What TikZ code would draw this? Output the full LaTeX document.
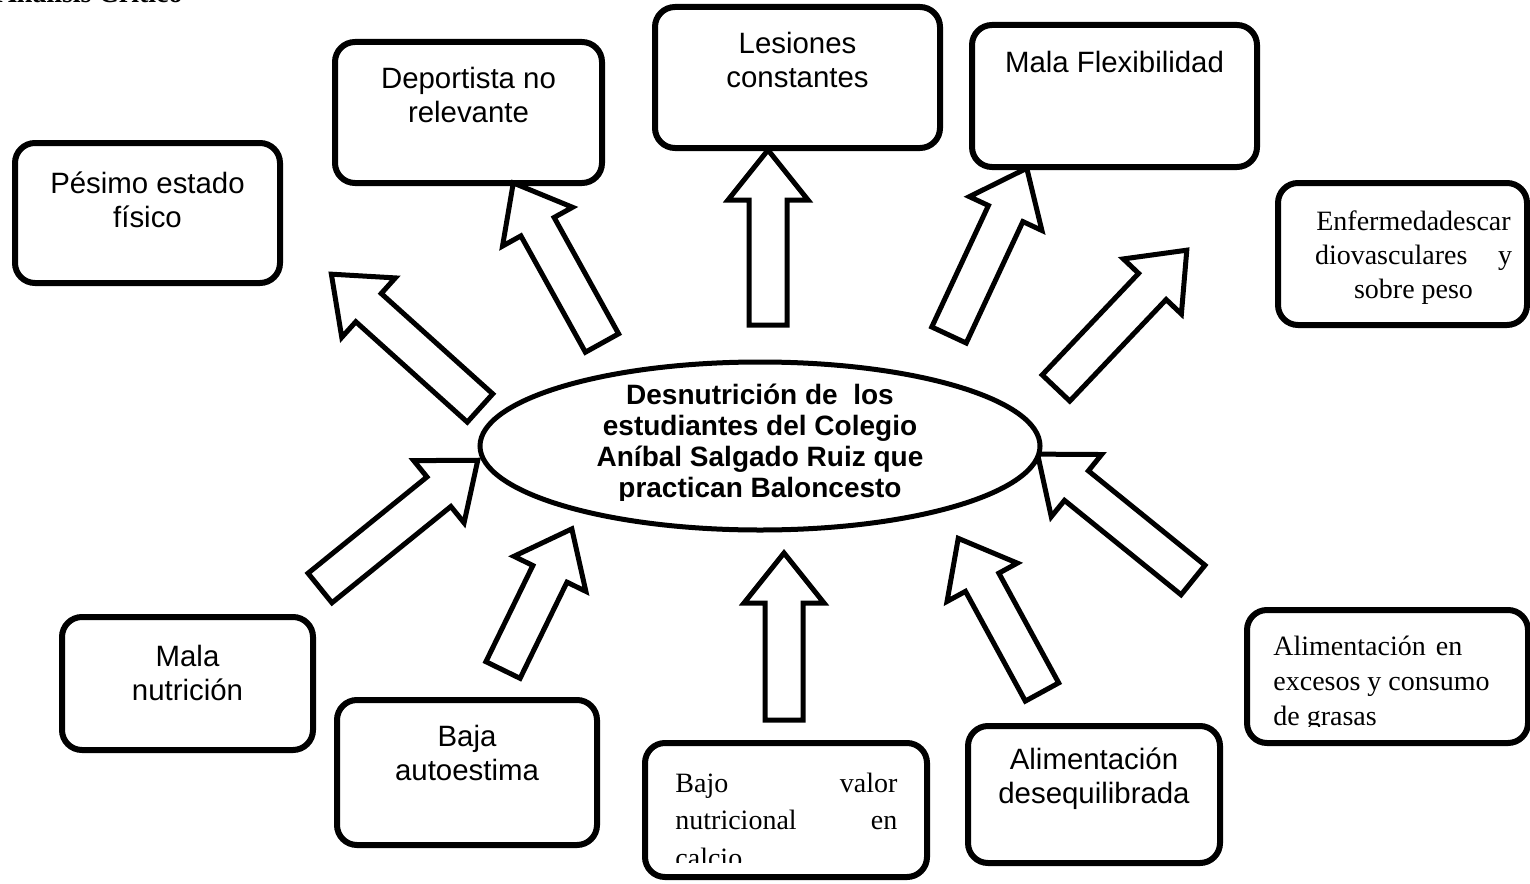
\documentclass[tikz,border=0pt]{standalone}
\usepackage{fontspec}
\setmainfont{Liberation Serif}
\setsansfont{Liberation Sans}
\usetikzlibrary{shapes.geometric}

% block arrow: tail x, tail y, angle, length
\newcommand{\flecha}[4]{%
  \draw[arrowline, shift={(#1,#2)}, rotate=#3]
    (0,-19) -- (#4-50,-19) -- (#4-50,-40) -- (#4,0) -- (#4-50,40) -- (#4-50,19) -- (0,19) -- cycle;}

\begin{document}
\begin{tikzpicture}[x=0.5pt, y=-0.5pt,
  box/.style={draw, line width=3pt, rounded corners=10pt, inner sep=0pt},
  arial/.style={font=\fontsize{14.7}{17}\selectfont\sffamily, align=center, anchor=base, inner sep=0pt},
  times/.style={font=\fontsize{14}{17.5}\selectfont\rmfamily, align=left, anchor=base west, inner sep=0pt},
  arrowline/.style={line width=2.5pt, line join=miter, fill=white}]

\useasboundingbox (0,0) rectangle (1530,883);
\clip (0,0) rectangle (1530,883);

\node[font=\fontsize{14}{17}\selectfont\bfseries, anchor=base east, inner sep=0pt] (titulo) at (183,3) {Análisis Crítico};

% boxes (text anchored at the last line)
\node[box, minimum width=132.5pt, minimum height=70pt] (pesimo) at (147.5,213) {};
\node[arial] (pesimotxt) at (147.5,227) {Pésimo estado\\físico};

\node[box, minimum width=133.5pt, minimum height=70.5pt] (deport) at (468.5,112.5) {};
\node[arial] (deporttxt) at (468.5,122) {Deportista no\\relevante};

\node[box, minimum width=142.5pt, minimum height=70.5pt] (lesion) at (797.5,77.5) {};
\node[arial] (lesiontxt) at (797.5,88) {Lesiones\\constantes};

\node[box, minimum width=142.5pt, minimum height=71pt] (flex) at (1114.5,96) {};
\node[arial] (flextxt) at (1114.5,73) {Mala Flexibilidad};

\node[box, minimum width=124.5pt, minimum height=71pt] (enferm) at (1402.5,254) {};
\begin{scope}
  \clip (1280,185) rectangle (1525,307);
  \node[times, anchor=base, align=center, font=\fontsize{14}{17}\selectfont\rmfamily] (enfermtxt) at (1413.5,298)
    {Enfermedadescar\\\makebox[98.5pt]{diovasculares\hfill y}\\sobre peso};
\end{scope}

\node[box, minimum width=140.5pt, minimum height=66.5pt] (exceso) at (1387.5,676.5) {};
\begin{scope}
  \clip (1250,612) rectangle (1525,726);
  \node[times] (excesotxt) at (1273,725) {Alimentación\hspace{5pt}en\\excesos y consumo\\de grasas};
\end{scope}

\node[box, minimum width=126pt, minimum height=68.5pt] (deseq) at (1094,794.5) {};
\node[arial] (deseqtxt) at (1094,803) {Alimentación\\desequilibrada};

\node[box, minimum width=141pt, minimum height=67pt] (bajov) at (786,810) {};
\begin{scope}
  \clip (648,745) rectangle (924,862);
  \node[times, font=\fontsize{14}{18.75}\selectfont\rmfamily] (bajovtxt) at (675,867)
    {\makebox[111pt]{Bajo\hfill valor}\\\makebox[111pt]{nutricional\hfill en}\\calcio};
\end{scope}

\node[box, minimum width=130pt, minimum height=72.5pt] (autoest) at (467,772.5) {};
\node[arial] (autoesttxt) at (467,780) {Baja\\autoestima};

\node[box, minimum width=125.5pt, minimum height=66.5pt] (malanut) at (187.5,683.5) {};
\node[arial] (malanuttxt) at (187.5,700) {Mala\\nutrición};

% arrows
\flecha{480}{408}{138}{200}
\flecha{602}{343}{119}{183}
\flecha{768}{325}{90}{175}
\flecha{949}{335}{65}{184}
\flecha{1056}{388}{46.5}{190}
\flecha{320}{588}{39}{203}
\flecha{503}{670}{64}{157}
\flecha{784}{720}{90}{167}
\flecha{1042}{692}{118.6}{175}
\flecha{1193}{580}{141}{200}

% centre
\node[draw, ellipse, fill=white, line width=2.5pt, minimum width=280pt, minimum height=84pt, inner sep=0pt] (centro) at (760,446) {};
\begin{scope}
  \clip (480,360) rectangle (1040,500);
  \node[arial, font=\fontsize{14}{15.5}\selectfont\sffamily\bfseries] (centrotxt) at (760,497)
    {Desnutrición de\ \ los\\estudiantes del Colegio\\Aníbal Salgado Ruiz que\\practican Baloncesto};
\end{scope}

\end{tikzpicture}
\end{document}
